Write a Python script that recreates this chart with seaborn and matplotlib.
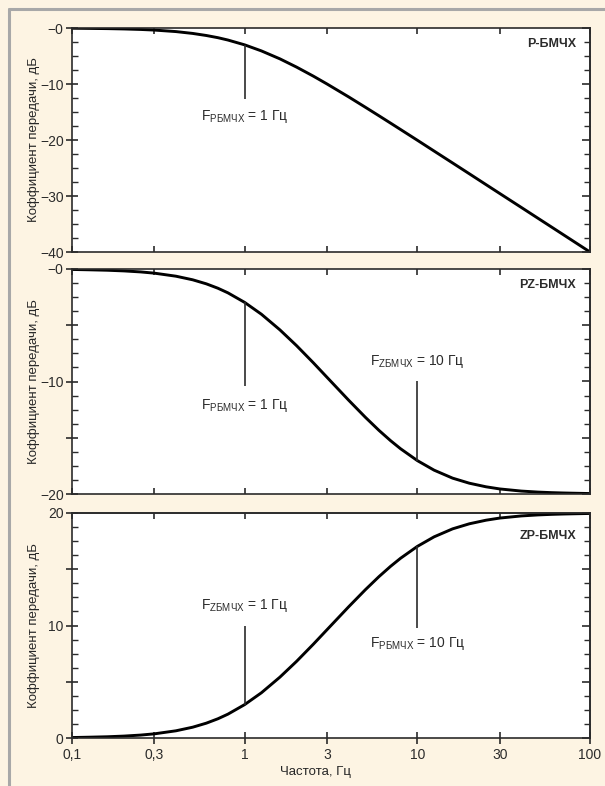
import matplotlib
matplotlib.use('Agg')
import matplotlib.pyplot as plt
import matplotlib.ticker as mticker
from matplotlib.lines import Line2D
import pandas as pd
import seaborn as sns

'''
Data read from the picture
'''
freq = [0.1, 0.125, 0.16, 0.2, 0.25, 0.3, 0.4, 0.5, 0.6, 0.7, 0.8, 1, 1.25, 1.6, 2, 2.5, 3,
        4, 5, 6, 7, 8, 10, 12.5, 16, 20, 25, 30, 40, 50, 60, 70, 80, 100]
gain_p = [-0.04, -0.07, -0.11, -0.17, -0.26, -0.37, -0.64, -0.97, -1.34, -1.73, -2.15, -3.01,
          -4.09, -5.51, -6.99, -8.6, -10.0, -12.3, -14.15, -15.68, -16.99, -18.13, -20.04,
          -21.97, -24.1, -26.03, -27.97, -29.55, -32.04, -33.98, -35.56, -36.9, -38.06, -40.0]
gain_pz = [-0.04, -0.07, -0.11, -0.17, -0.26, -0.37, -0.64, -0.96, -1.32, -1.71, -2.12, -2.97,
           -4.02, -5.41, -6.82, -8.34, -9.63, -11.66, -13.18, -14.35, -15.26, -15.98, -17.03,
           -17.88, -18.59, -19.04, -19.36, -19.55, -19.74, -19.83, -19.88, -19.91, -19.93, -19.96]
gain_zp = [0.04, 0.07, 0.11, 0.17, 0.26, 0.37, 0.64, 0.96, 1.32, 1.71, 2.12, 2.97,
           4.02, 5.41, 6.82, 8.34, 9.63, 11.66, 13.18, 14.35, 15.26, 15.98, 17.03,
           17.88, 18.59, 19.04, 19.36, 19.55, 19.74, 19.83, 19.88, 19.91, 19.93, 19.96]

panel_names = ['Р-БМЧХ', 'РZ-БМЧХ', 'ZР-БМЧХ']
xtick_vals = [0.1, 0.3, 1, 3, 10, 30, 100]
xtick_labels = ['0,1', '0,3', '1', '3', '10', '30', '100']
ylabel = 'Коффициент передачи, дБ'
xlabel = 'Частота, Гц'

'''
Style
'''
sns.set_style('ticks')
cream = '#FDF4E3'
ink = '#2b2b2b'
plt.rcParams['font.family'] = ['Liberation Sans', 'DejaVu Sans']
plt.rcParams['axes.edgecolor'] = ink
plt.rcParams['axes.linewidth'] = 1.2
plt.rcParams['xtick.color'] = ink
plt.rcParams['ytick.color'] = ink
plt.rcParams['text.color'] = ink

fig = plt.figure(figsize=(6.05, 7.86), dpi=100, facecolor=cream)
W, H = 605, 786
left, right = 72, 590
panels_px = [(28, 252), (269, 494), (513, 738)]
axes = []
for top, bot in panels_px:
    ax = fig.add_axes([left / W, 1 - bot / H, (right - left) / W, (bot - top) / H])
    axes.append(ax)

series = [gain_p, gain_pz, gain_zp]
ylims = [(-40, 0), (-20, 0), (0, 20)]
majors = [10, 5, 5]
minors = [2.5, 1.25, 1.25]
label_y = [0.929, 0.929, 0.898]

def neg_fmt(v, pos):
    if abs(v) % 10 > 1e-6:
        return ''
    return '\u2212' + f'{abs(v):g}'

def pos_fmt(v, pos):
    if abs(v) % 10 > 1e-6:
        return ''
    return f'{v:g}'

for i, ax in enumerate(axes):
    ax.set_facecolor('white')
    ax.set_xscale('log')
    df = pd.DataFrame({'f': freq, 'g': series[i]})
    sns.lineplot(data=df, x='f', y='g', ax=ax, color='black', linewidth=2.1, sort=False)
    ax.set_xlim(0.1, 100)
    ax.set_ylim(*ylims[i])
    ax.set_xlabel('')
    ax.set_ylabel(ylabel, fontsize=9.5)
    ax.yaxis.set_label_coords(-0.062, 0.5)
    ax.xaxis.set_major_locator(mticker.FixedLocator(xtick_vals))
    ax.xaxis.set_minor_locator(mticker.NullLocator())
    ax.yaxis.set_major_locator(mticker.MultipleLocator(majors[i]))
    ax.yaxis.set_minor_locator(mticker.MultipleLocator(minors[i]))
    ax.yaxis.set_major_formatter(mticker.FuncFormatter(pos_fmt if i == 2 else neg_fmt))
    ax.tick_params(axis='y', which='major', direction='inout', length=8, width=1.2,
                   left=True, right=False, labelsize=10, pad=2)
    ax.tick_params(axis='y', which='minor', direction='in', length=4, width=1.0,
                   left=True, right=False)
    ax.tick_params(axis='x', which='major', direction='in', length=4, width=1.2,
                   top=True, bottom=True, labelbottom=False)
    # right side ticks point inward only
    sy = ax.secondary_yaxis('right')
    sy.yaxis.set_major_locator(mticker.MultipleLocator(majors[i]))
    sy.yaxis.set_minor_locator(mticker.MultipleLocator(minors[i]))
    sy.tick_params(which='major', direction='in', length=6, width=1.2, labelright=False)
    sy.tick_params(which='minor', direction='in', length=4, width=1.0)
    sy.spines['right'].set_color(ink)
    ax.text(0.973, label_y[i], panel_names[i], transform=ax.transAxes, ha='right',
            va='center', fontsize=9, fontweight='bold')

# bottom panel: x tick labels and crossing ticks at the bottom
ax3 = axes[2]
ax3.tick_params(axis='x', which='major', top=False, direction='inout', length=8,
                labelbottom=True, labelsize=10)
ax3.set_xticklabels(xtick_labels)
sec = ax3.secondary_xaxis('top')
sec.xaxis.set_major_locator(mticker.FixedLocator(xtick_vals))
sec.xaxis.set_minor_locator(mticker.NullLocator())
sec.tick_params(direction='in', length=4, width=1.2, labeltop=False)
ax3.set_xlabel(xlabel, fontsize=9.5)
ax3.xaxis.set_label_coords(0.469, -0.125)

'''
Cutoff markers
'''
def marker(ax, f, y_end, text, y_text, g):
    y0 = g[freq.index(f)]
    ax.vlines(f, min(y0, y_end), max(y0, y_end), color=ink, linewidth=1.2)
    ax.text(f, y_text, text, ha='center', va='center', fontsize=10)

marker(axes[0], 1, -12.7, 'F$_{\\mathregular{РБМЧХ}}$ = 1 Гц', -15.8, gain_p)
marker(axes[1], 1, -10.4, 'F$_{\\mathregular{РБМЧХ}}$ = 1 Гц', -12.1, gain_pz)
marker(axes[1], 10, -9.94, 'F$_{\\mathregular{ZБМЧХ}}$ = 10 Гц', -8.25, gain_pz)
marker(axes[2], 1, 10.0, 'F$_{\\mathregular{ZБМЧХ}}$ = 1 Гц', 11.75, gain_zp)
marker(axes[2], 10, 9.8, 'F$_{\\mathregular{РБМЧХ}}$ = 10 Гц', 8.4, gain_zp)

# grey frame on top and left
fig.add_artist(Line2D([9 / W, 1], [1 - 9 / H, 1 - 9 / H], color='#a8a8a8', linewidth=2.2))
fig.add_artist(Line2D([9 / W, 9 / W], [0, 1 - 9 / H], color='#a8a8a8', linewidth=2.2))

fig.savefig('out.png', dpi=100, facecolor=cream)
